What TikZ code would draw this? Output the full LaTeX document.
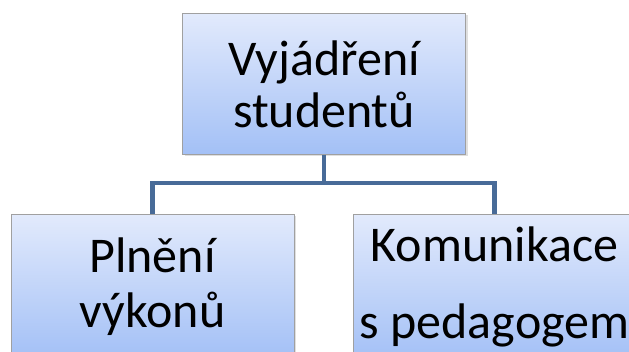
\documentclass[tikz,border=0pt]{standalone}
\usepackage{fontspec}
\setmainfont{Carlito}
\usetikzlibrary{shadows}
\definecolor{boxtop}{RGB}{226,234,252}
\definecolor{boxbot}{RGB}{163,192,246}
\definecolor{boxline}{RGB}{160,160,160}
\definecolor{linkblue}{RGB}{72,107,152}
\tikzset{
  box/.style={draw=boxline, line width=0.8pt, top color=boxtop, bottom color=boxbot,
    minimum width=283pt, align=center, inner sep=0pt,
    font=\fontsize{50}{52}\selectfont,
    drop shadow={shadow xshift=2pt, shadow yshift=-2pt, opacity=0.25}},
  link/.style={draw=linkblue, line width=4.5pt}
}
\begin{document}
\begin{tikzpicture}[x=1pt, y=-1pt]
  \useasboundingbox (0,0) rectangle (629,351);
  \clip (0,0) rectangle (629,351);
  \draw
    (324,13) node[box, anchor=north, minimum height=141pt] (top) {Vyjádření\\studentů}
    (152.5,214) node[box, anchor=north, minimum height=144pt] (left) {Plnění\\[3pt]výkonů}
    (494.5,214) node[box, anchor=north, minimum height=146pt] (right) {Komunikace\\[25pt]s pedagogem};
  \coordinate (split) at (324,183);
  \begin{scope}[link]
    \draw (top.south) -- (split);
    \draw (left.north) |- (split) -| (right.north);
  \end{scope}
\end{tikzpicture}
\end{document}
